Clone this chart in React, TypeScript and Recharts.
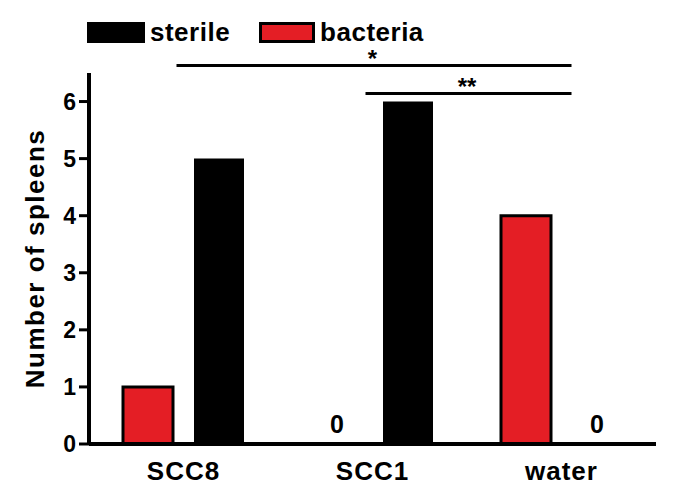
import { BarChart, Bar, XAxis, YAxis, Legend, ReferenceLine, Rectangle } from 'recharts';

const categories = ['SCC8', 'SCC1', 'water'];
const bacteria = [1, 0, 4];
const sterile = [5, 6, 0];
const yTicks = [0, 1, 2, 3, 4, 5, 6];
const legendOrder = ['sterile', 'bacteria'];
const sigBars = [
  { from: 'SCC8', to: 'water', y: 6.63, mark: '*' },
  { from: 'SCC1', to: 'water', y: 6.14, mark: '**' },
];

const data = categories.map((name, i) => ({ name, bacteria: bacteria[i], sterile: sterile[i] }));

const RED = '#e41e25';
const FONT = '"Liberation Sans", Arial, sans-serif';

// draws the bar, or a "0" over the baseline when the count is zero
const makeBarShape = (key: string) => (props: any) => {
  const v = props.payload ? props.payload[key] : props.value;
  if (Number(v) === 0) {
    const base = props.y + props.height;
    return (
      <text x={props.x + props.width / 2} y={base - 11} textAnchor="middle" fontSize={25} fontWeight="bold" fontFamily={FONT} fill="#000">
        0
      </text>
    );
  }
  return <Rectangle {...props} />;
};

const LegendContent = (props: any) => {
  const items = [...(props.payload || [])].sort(
    (a: any, b: any) => legendOrder.indexOf(a.dataKey) - legendOrder.indexOf(b.dataKey)
  );
  return (
    <div style={{ display: 'flex', alignItems: 'center', fontFamily: FONT, fontWeight: 'bold', fontSize: 26 }}>
      {items.map((it: any) => (
        <div key={it.dataKey} style={{ display: 'flex', alignItems: 'center', marginRight: 29 }}>
          <div
            style={{
              width: it.dataKey === 'bacteria' ? 50 : 58,
              height: it.dataKey === 'bacteria' ? 15 : 21,
              background: it.dataKey === 'bacteria' ? RED : '#000',
              border: it.dataKey === 'bacteria' ? '3px solid #000' : 'none',
              marginRight: 5,
            }}
          />
          <span style={{ color: '#000', lineHeight: '21px', letterSpacing: 0.5 }}>{it.value}</span>
        </div>
      ))}
    </div>
  );
};

const SigLine = (props: any) => {
  const { x1, y1, x2, y2 } = props;
  return <line x1={x1 - 7} y1={y1} x2={x2 + 10} y2={y2} stroke="#000" strokeWidth={3} />;
};

export default function App() {
  return (
    <div style={{ position: 'absolute', left: 0, top: 0, background: '#fff' }}>
      <BarChart
        width={675}
        height={504}
        data={data}
        margin={{ top: 73, right: 19, bottom: 20, left: 0 }}
        barSize={50}
        barGap={21}
      >
        <XAxis
          dataKey="name"
          height={40}
          axisLine={{ stroke: '#000', strokeWidth: 4 }}
          tickLine={false}
          tickSize={0}
          tickMargin={18}
          tick={{ fontSize: 26, fontWeight: 'bold', fill: '#000', fontFamily: FONT, letterSpacing: 1 }}
        />
        <YAxis
          width={89}
          domain={[0, 6.5]}
          ticks={yTicks}
          axisLine={{ stroke: '#000', strokeWidth: 4 }}
          tickLine={{ stroke: '#000', strokeWidth: 3 }}
          tickSize={10}
          tickMargin={3}
          tick={{ fontSize: 23, fontWeight: 'bold', fill: '#000', fontFamily: FONT }}
          label={{
            value: 'Number of spleens',
            angle: -90,
            position: 'insideLeft',
            offset: 35,
            style: { textAnchor: 'middle', fontSize: 26, fontWeight: 'bold', fill: '#000', fontFamily: FONT, letterSpacing: 1.5 },
          }}
        />
        <Legend
          verticalAlign="middle"
          content={<LegendContent />}
          wrapperStyle={{ top: 22, left: 87, width: 'auto', height: 21 }}
        />
        <Bar
          dataKey="bacteria"
          name="bacteria"
          fill={RED}
          stroke="#000"
          strokeWidth={3}
          minPointSize={1}
          shape={makeBarShape('bacteria')}
          isAnimationActive={false}
        />
        <Bar
          dataKey="sterile"
          name="sterile"
          fill="#000"
          minPointSize={1}
          shape={makeBarShape('sterile')}
          isAnimationActive={false}
        />
        {sigBars.map((s) => (
          <ReferenceLine
            key={s.mark}
            segment={[{ x: s.from, y: s.y }, { x: s.to, y: s.y }]}
            ifOverflow="visible"
            shape={<SigLine />}
            label={{ value: s.mark, position: 'top', offset: -1, fontSize: 24, fontWeight: 'bold', fill: '#000', fontFamily: FONT }}
          />
        ))}
      </BarChart>
    </div>
  );
}
